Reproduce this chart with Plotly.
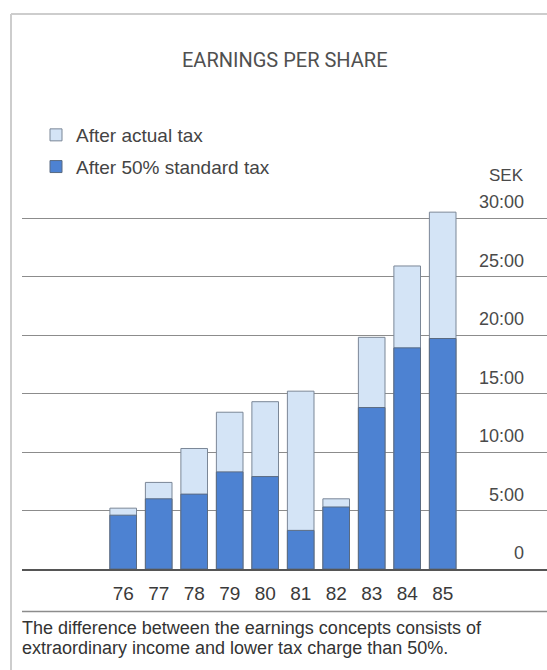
import plotly.graph_objects as go

# Earnings per share, SEK, fiscal years 1976-1985
years = ["76", "77", "78", "79", "80", "81", "82", "83", "84", "85"]
after_actual_tax = [5.2, 7.4, 10.3, 13.4, 14.3, 15.2, 6.0, 19.8, 25.9, 30.5]
after_standard_tax = [4.6, 6.0, 6.4, 8.3, 7.9, 3.3, 5.3, 13.8, 18.9, 19.7]

tick_values = [0, 5, 10, 15, 20, 25, 30]
tick_labels = ["0", "5:00", "10:00", "15:00", "20:00", "25:00", "30:00"]

caption_lines = [
    "The difference between the earnings concepts consists of",
    "extraordinary income and lower tax charge than 50%.",
]

W, H = 547, 670
ML, MR, MT, MB = 22, 0, 150, 101
PW, PH = W - ML - MR, H - MT - MB
PX_PER_UNIT = 11.7

BODY_FONT = "Liberation Sans, Arial, sans-serif"
TITLE_FONT = "Roboto, Liberation Sans, sans-serif"


def px_x(p):
    return (p - ML) / PW


def px_y(p):
    return (H - MB - p) / PH


fig = go.Figure()
fig.add_trace(go.Bar(
    x=years, y=after_actual_tax, name="After actual tax",
    legendgroup="actual", width=0.75,
    marker=dict(color="#d4e4f6", line=dict(color="#7b8797", width=1)),
))
fig.add_trace(go.Bar(
    x=years, y=after_standard_tax, name="After 50% standard tax",
    legendgroup="standard", width=0.75,
    marker=dict(color="#4d82d2", line=dict(color="#5a6b82", width=1)),
))

frame_color = "#cdcdcd"
shapes = [
    # outer frame: left and top edges
    dict(type="line", xref="paper", yref="paper",
         x0=px_x(11), x1=px_x(11), y0=px_y(14), y1=px_y(H + 5),
         line=dict(color=frame_color, width=2)),
    dict(type="line", xref="paper", yref="paper",
         x0=px_x(11), x1=px_x(W + 5), y0=px_y(14), y1=px_y(14),
         line=dict(color=frame_color, width=2)),
    # rule under the year labels
    dict(type="line", xref="paper", yref="paper",
         x0=0, x1=1, y0=px_y(611.5), y1=px_y(611.5),
         line=dict(color="#8c8c8c", width=1.5)),
]

annotations = [
    dict(text="EARNINGS PER SHARE", xref="paper", yref="paper",
         x=px_x(285), y=px_y(60), xanchor="center", yanchor="middle",
         showarrow=False, font=dict(family=TITLE_FONT, size=20, color="#505050")),
    dict(text="SEK", xref="paper", yref="paper",
         x=px_x(487), y=px_y(176), xanchor="left", yanchor="middle",
         showarrow=False, font=dict(family=BODY_FONT, size=17, color="#4a4a4a")),
]
for i, line in enumerate(caption_lines):
    annotations.append(dict(
        text=line, xref="paper", yref="paper",
        x=px_x(20), y=px_y(627.5 + 20.5 * i), xanchor="left", yanchor="middle",
        showarrow=False, font=dict(family=BODY_FONT, size=18, color="#333333")))

fig.update_layout(
    width=W, height=H,
    margin=dict(l=ML, r=MR, t=MT, b=MB, pad=0),
    paper_bgcolor="white", plot_bgcolor="white",
    barmode="overlay", bargap=0.25,
    showlegend=True,
    legend=dict(
        x=px_x(36), y=px_y(116), xanchor="left", yanchor="top",
        bgcolor="rgba(0,0,0,0)", font=dict(family=BODY_FONT, size=19, color="#444444"),
        itemclick=False, itemdoubleclick=False, tracegroupgap=4,
    ),
    shapes=shapes,
    annotations=annotations,
    font=dict(family=BODY_FONT),
)

fig.update_xaxes(
    type="category", categoryorder="array", categoryarray=years,
    range=[(ML - 123.2) / 35.5, (W - 123.2) / 35.5],
    showgrid=False, zeroline=False,
    showline=True, linecolor="#555555", linewidth=2,
    ticks="", ticklabelstandoff=6,
    tickfont=dict(family=BODY_FONT, size=19, color="#3a3a3a"),
)
fig.update_yaxes(
    range=[0, PH / PX_PER_UNIT],
    tickmode="array", tickvals=tick_values, ticktext=tick_labels,
    showgrid=True, gridcolor="#8c8c8c", gridwidth=1,
    zeroline=False, showline=False, ticks="",
    side="right", ticklabelposition="inside",
    ticklabelstandoff=20, ticklabelshift=-16,
    tickfont=dict(family=BODY_FONT, size=18, color="#4a4a4a"),
)

fig.write_html("out.html", config={"displayModeBar": False})
